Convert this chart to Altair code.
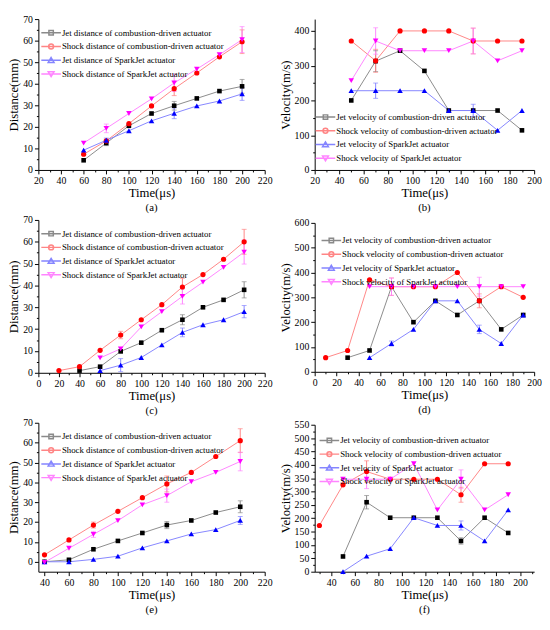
import altair as alt
import pandas as pd

FONT = "Liberation Serif, Times New Roman, serif"

NAMES_DIST = [
    "Jet distance of combustion-driven actuator",
    "Shock distance of combustion-driven actuator",
    "Jet distance of SparkJet actuator",
    "Shock distance of SparkJet actuator",
]
NAMES_VEL = [
    "Jet velocity of combustion-driven actuator",
    "Shock velocity of combustion-driven actuator",
    "Jet velocity of SparkJet actuator",
    "Shock velocity of SparkJet actuator",
]

# ---------------- panel (a) ----------------
A_T = [60, 80, 100, 120, 140, 160, 180, 200]
A_JET_CDA = [4.5, 12.5, 20.5, 26.2, 29.8, 33.2, 36.6, 38.8]
A_JET_CDA_ERR = [0, 1.2, 0, 0, 2.0, 0, 0, 3.2]
A_SHOCK_CDA = [7.3, 13.5, 21.5, 29.7, 37.7, 45.0, 52.5, 59.5]
A_SHOCK_CDA_ERR = [0, 0, 0, 0, 3.2, 0, 0, 5.5]
A_JET_SJA = [9.2, 13.8, 18.2, 22.8, 26.3, 29.7, 32.0, 35.3]
A_JET_SJA_ERR = [0, 1.0, 0, 0, 2.5, 0, 0, 3.0]
A_SHOCK_SJA = [12.5, 19.3, 26.2, 33.0, 40.4, 46.8, 53.5, 60.5]
A_SHOCK_SJA_ERR = [0, 2.0, 0, 0, 4.0, 0, 0, 6.0]

# ---------------- panel (b) ----------------
B_T = [50, 70, 90, 110, 130, 150, 170, 190]
B_JET_CDA = [200, 313, 343, 285, 171, 171, 171, 114]
B_JET_CDA_ERR = [0, 30, 0, 0, 0, 0, 0, 0]
B_SHOCK_CDA = [371, 314, 400, 400, 400, 371, 371, 371]
B_SHOCK_CDA_ERR = [0, 33, 0, 0, 0, 37, 0, 0]
B_JET_SJA = [228, 228, 228, 228, 171, 171, 114, 171]
B_JET_SJA_ERR = [0, 22, 0, 0, 0, 18, 0, 0]
B_SHOCK_SJA = [257, 371, 343, 343, 343, 371, 314, 343]
B_SHOCK_SJA_ERR = [0, 38, 0, 0, 0, 37, 0, 0]

# ---------------- panel (c) ----------------
C_JET_CDA_T = [40, 60, 80, 100, 120, 140, 160, 180, 200]
C_JET_CDA = [1.0, 2.8, 9.8, 13.8, 19.5, 24.3, 30.0, 33.4, 38.0]
C_JET_CDA_ERR = [0, 0, 0, 0, 0, 2.3, 0, 0, 3.7]
C_SHOCK_CDA_T = [20, 40, 60, 80, 100, 120, 140, 160, 180, 200]
C_SHOCK_CDA = [1.0, 2.8, 10.3, 17.3, 24.3, 31.2, 39.3, 45.0, 52.0, 60.0]
C_SHOCK_CDA_ERR = [0, 0, 0, 1.7, 0, 0, 4.0, 0, 0, 5.7]
C_JET_SJA_T = [60, 80, 100, 120, 140, 160, 180, 200]
C_JET_SJA = [1.0, 3.5, 7.0, 12.8, 18.5, 22.0, 24.3, 28.0]
C_JET_SJA_ERR = [0, 3.0, 0, 0, 2.0, 0, 0, 2.8]
C_SHOCK_SJA_T = [60, 80, 100, 120, 140, 160, 180, 200]
C_SHOCK_SJA = [6.8, 11.0, 21.0, 28.0, 35.0, 41.5, 48.3, 55.3]
C_SHOCK_SJA_ERR = [0, 0, 0, 0, 3.5, 0, 0, 5.5]

# ---------------- panel (d) ----------------
D_JET_CDA_T = [30, 50, 70, 90, 110, 130, 150, 170, 190]
D_JET_CDA = [57, 86, 343, 200, 286, 229, 286, 171, 229]
D_JET_CDA_ERR = [0, 0, 0, 0, 0, 0, 0, 0, 0]
D_SHOCK_CDA_T = [10, 30, 50, 70, 90, 110, 130, 150, 170, 190]
D_SHOCK_CDA = [57, 86, 371, 343, 343, 343, 400, 286, 343, 300]
D_SHOCK_CDA_ERR = [0, 0, 0, 35, 0, 0, 0, 28, 0, 0]
D_JET_SJA_T = [50, 70, 90, 110, 130, 150, 170, 190]
D_JET_SJA = [57, 114, 171, 286, 286, 171, 114, 229]
D_JET_SJA_ERR = [0, 10, 0, 0, 0, 17, 0, 0]
D_SHOCK_SJA_T = [50, 70, 90, 110, 130, 150, 170, 190]
D_SHOCK_SJA = [343, 343, 343, 343, 343, 343, 343, 343]
D_SHOCK_SJA_ERR = [0, 35, 0, 0, 0, 38, 0, 0]

# ---------------- panel (e) ----------------
E_T = [40, 60, 80, 100, 120, 140, 160, 180, 200]
E_JET_CDA = [0.0, 1.0, 6.3, 10.5, 14.5, 18.5, 20.8, 24.8, 27.7]
E_JET_CDA_ERR = [0, 0, 0, 0, 0, 1.8, 0, 0, 3.0]
E_SHOCK_CDA = [3.5, 11.0, 18.5, 25.4, 32.3, 39.2, 45.0, 53.0, 61.0]
E_SHOCK_CDA_ERR = [0, 0, 1.5, 0, 0, 4.0, 0, 0, 6.0]
E_JET_SJA = [0.0, 0.0, 1.2, 2.8, 7.0, 10.5, 14.0, 16.2, 20.8]
E_JET_SJA_ERR = [0, 0, 0, 0, 0, 0, 0, 0, 2.0]
E_SHOCK_SJA = [-0.3, 6.8, 13.8, 20.7, 28.7, 33.3, 40.3, 45.0, 50.5]
E_SHOCK_SJA_ERR = [0, 0, 1.5, 0, 0, 3.3, 0, 0, 4.7]

# ---------------- panel (f) ----------------
F_JET_CDA_T = [50, 70, 90, 110, 130, 150, 170, 190]
F_JET_CDA = [57, 260, 202, 202, 202, 115, 202, 145]
F_JET_CDA_ERR = [0, 25, 0, 0, 0, 12, 0, 0]
F_SHOCK_CDA_T = [30, 50, 70, 90, 110, 130, 150, 170, 190]
F_SHOCK_CDA = [173, 325, 375, 346, 346, 346, 288, 404, 404]
F_SHOCK_CDA_ERR = [0, 0, 40, 0, 0, 0, 28, 0, 0]
F_JET_SJA_T = [50, 70, 90, 110, 130, 150, 170, 190]
F_JET_SJA = [0, 58, 86, 202, 173, 173, 115, 231]
F_JET_SJA_ERR = [0, 0, 0, 0, 0, 17, 0, 0]
F_SHOCK_SJA_T = [50, 70, 90, 110, 130, 150, 170, 190]
F_SHOCK_SJA = [346, 346, 346, 404, 231, 346, 231, 288]
F_SHOCK_SJA_ERR = [0, 35, 0, 0, 0, 35, 0, 0]

DARK = ["#000000", "#ff0000", "#0000ff", "#ff00ff"]
LIGHT = ["#8a8a8a", "#ff8585", "#8585ff", "#ff85ff"]
SHAPES = ["square", "circle", "triangle-up", "triangle-down"]
SIZES = [22, 28, 32, 32]
LEGEND_PATHS = [
    "M-2.2,0H1.8M-0.65,-0.45H0.25V0.45H-0.65Z",
    "M0.3,0A0.5,0.5,0,1,1,-0.7,0A0.5,0.5,0,1,1,0.3,0Z M-2.2,0H1.8",
    "M-0.2,-0.55L0.4,0.45H-0.8Z M-2.2,0H1.8",
    "M-0.2,0.55L0.4,-0.45H-0.8Z M-2.2,0H1.8",
]

LEG_INDEP = dict(fill="independent", stroke="independent", shape="independent")


def frame(names, xs, ys, es):
    rows = []
    for n, xl, yl, el in zip(names, xs, ys, es):
        for t, v, e in zip(xl, yl, el):
            rows.append({"series": n, "t": t, "v": v, "err": e})
    return pd.DataFrame(rows)


def panel(df, names, caption, xdom, xticks, xminor, ydom, yticks, yminor,
          ytitle, w, h, lorient, loffset):
    xs = alt.Scale(domain=xdom, nice=False, zero=False)
    ys = alt.Scale(domain=ydom, nice=False, zero=False)
    xax = alt.Axis(values=xticks, title="Time(μs)", titlePadding=1)
    yax = alt.Axis(values=yticks, title=ytitle, titlePadding=2)
    X = alt.X("t:Q", scale=xs, axis=xax)
    Y = alt.Y("v:Q", scale=ys, axis=yax)
    base = alt.Chart(df)
    col_light = alt.Color("series:N", scale=alt.Scale(domain=names, range=LIGHT), legend=None)

    lines = base.mark_line(strokeWidth=1).encode(x=X, y=Y, color=col_light)

    eb = base.transform_filter("datum.err > 0").transform_calculate(
        lo="datum.v - datum.err", hi="datum.v + datum.err")
    rules = eb.mark_rule(strokeWidth=1).encode(
        x=X, y=alt.Y("lo:Q", scale=ys, axis=yax), y2="hi:Q", color=col_light)
    cap_lo = eb.mark_tick(orient="horizontal", size=5, thickness=1).encode(
        x=X, y=alt.Y("lo:Q", scale=ys, axis=yax), color=col_light)
    cap_hi = eb.mark_tick(orient="horizontal", size=5, thickness=1).encode(
        x=X, y=alt.Y("hi:Q", scale=ys, axis=yax), color=col_light)

    pts = []
    for i, n in enumerate(names):
        pts.append(
            base.transform_filter(alt.datum.series == n)
            .mark_point(shape=SHAPES[i], filled=True, size=SIZES[i], color=DARK[i], opacity=1)
            .encode(x=X, y=Y)
        )

    leg = alt.Legend(title=None, orient=lorient, offset=loffset, values=names,
                     labelFont=FONT, labelFontSize=9, labelLimit=400, symbolSize=100)
    legend_layer = base.mark_point(size=100, opacity=0, strokeWidth=1).encode(
        x=X, y=Y,
        fill=alt.Fill("series:N", scale=alt.Scale(domain=names, range=DARK), legend=leg),
        stroke=alt.Stroke("series:N", scale=alt.Scale(domain=names, range=LIGHT), legend=leg),
        shape=alt.Shape("series:N", scale=alt.Scale(domain=names, range=LEGEND_PATHS), legend=leg),
    )

    main = alt.layer(lines, rules, cap_lo, cap_hi, *pts, legend_layer)

    minor = base.mark_point(opacity=0).encode(
        x=alt.X("t:Q", scale=alt.Scale(domain=xdom, nice=False, zero=False),
                axis=alt.Axis(values=xminor, labels=False, tickSize=2, domain=False,
                              title=None, orient="bottom")),
        y=alt.Y("v:Q", scale=alt.Scale(domain=ydom, nice=False, zero=False),
                axis=alt.Axis(values=yminor, labels=False, tickSize=2, domain=False,
                              title=None, orient="left")),
    )

    return (
        alt.layer(main, minor)
        .resolve_scale(x="independent", y="independent")
        .properties(
            width=w, height=h,
            title=alt.TitleParams(caption, orient="bottom", font=FONT, fontSize=11,
                                  fontWeight="normal", color="black", offset=3),
        )
    )


def rng(a, b, s):
    return list(range(a, b + 1, s))


df_a = frame(NAMES_DIST, [A_T] * 4, [A_JET_CDA, A_SHOCK_CDA, A_JET_SJA, A_SHOCK_SJA],
             [A_JET_CDA_ERR, A_SHOCK_CDA_ERR, A_JET_SJA_ERR, A_SHOCK_SJA_ERR])
df_b = frame(NAMES_VEL, [B_T] * 4, [B_JET_CDA, B_SHOCK_CDA, B_JET_SJA, B_SHOCK_SJA],
             [B_JET_CDA_ERR, B_SHOCK_CDA_ERR, B_JET_SJA_ERR, B_SHOCK_SJA_ERR])
df_c = frame(NAMES_DIST, [C_JET_CDA_T, C_SHOCK_CDA_T, C_JET_SJA_T, C_SHOCK_SJA_T],
             [C_JET_CDA, C_SHOCK_CDA, C_JET_SJA, C_SHOCK_SJA],
             [C_JET_CDA_ERR, C_SHOCK_CDA_ERR, C_JET_SJA_ERR, C_SHOCK_SJA_ERR])
df_d = frame(NAMES_VEL, [D_JET_CDA_T, D_SHOCK_CDA_T, D_JET_SJA_T, D_SHOCK_SJA_T],
             [D_JET_CDA, D_SHOCK_CDA, D_JET_SJA, D_SHOCK_SJA],
             [D_JET_CDA_ERR, D_SHOCK_CDA_ERR, D_JET_SJA_ERR, D_SHOCK_SJA_ERR])
df_e = frame(NAMES_DIST, [E_T] * 4, [E_JET_CDA, E_SHOCK_CDA, E_JET_SJA, E_SHOCK_SJA],
             [E_JET_CDA_ERR, E_SHOCK_CDA_ERR, E_JET_SJA_ERR, E_SHOCK_SJA_ERR])
df_f = frame(NAMES_VEL, [F_JET_CDA_T, F_SHOCK_CDA_T, F_JET_SJA_T, F_SHOCK_SJA_T],
             [F_JET_CDA, F_SHOCK_CDA, F_JET_SJA, F_SHOCK_SJA],
             [F_JET_CDA_ERR, F_SHOCK_CDA_ERR, F_JET_SJA_ERR, F_SHOCK_SJA_ERR])

pa = panel(df_a, NAMES_DIST, "(a)", [20, 220], rng(20, 220, 20), rng(30, 210, 20),
           [0, 70], rng(0, 70, 10), [5, 15, 25, 35, 45, 55, 65], "Distance(mm)",
           231, 154, "top-left", 8)
pc = panel(df_c, NAMES_DIST, "(c)", [0, 220], rng(0, 220, 20), rng(10, 210, 20),
           [0, 70], rng(0, 70, 10), [5, 15, 25, 35, 45, 55, 65], "Distance(mm)",
           231, 156, "top-left", 8)
pe = panel(df_e, NAMES_DIST, "(e)", [35, 220], rng(40, 220, 20), rng(50, 210, 20),
           [-5, 70], rng(0, 70, 10), [5, 15, 25, 35, 45, 55, 65], "Distance(mm)",
           231, 152, "top-left", 8)
pb = panel(df_b, NAMES_VEL, "(b)", [20, 200], rng(20, 200, 20), rng(30, 190, 20),
           [0, 434], rng(0, 400, 100), [50, 150, 250, 350], "Velocity(m/s)",
           224, 154, "bottom-left", 6)
pd_ = panel(df_d, NAMES_VEL, "(d)", [0, 200], rng(0, 200, 20), rng(10, 190, 20),
            [0, 600], rng(0, 600, 100), [50, 150, 250, 350, 450, 550], "Velocity(m/s)",
            224, 152, "top-left", 12)
pf = panel(df_f, NAMES_VEL, "(f)", [26, 212], rng(40, 200, 20), rng(30, 210, 20),
           [0, 550], rng(0, 550, 50), rng(25, 525, 50), "Velocity(m/s)",
           224, 150, "top-left", 10)

left = alt.vconcat(pa, pc, pe, spacing=51, bounds="flush").resolve_legend(**LEG_INDEP)
right = alt.vconcat(pb, pd_, pf, spacing=54, bounds="flush").resolve_legend(**LEG_INDEP)

chart = (
    alt.hconcat(left, right, spacing=7)
    .resolve_legend(**LEG_INDEP)
    .properties(padding={"left": 0, "top": 0, "right": 0, "bottom": 0})
    .configure_view(stroke=None)
    .configure_axis(
        labelFont=FONT, labelFontSize=10, labelColor="black", labelPadding=2,
        labelOverlap=False, labelFlush=False,
        titleFont=FONT, titleFontSize=13, titleFontWeight="normal", titleColor="black",
        domainColor="black", tickColor="black", tickSize=4, grid=False,
    )
)

chart.save("out.html", embed_options={"renderer": "svg", "actions": False})
